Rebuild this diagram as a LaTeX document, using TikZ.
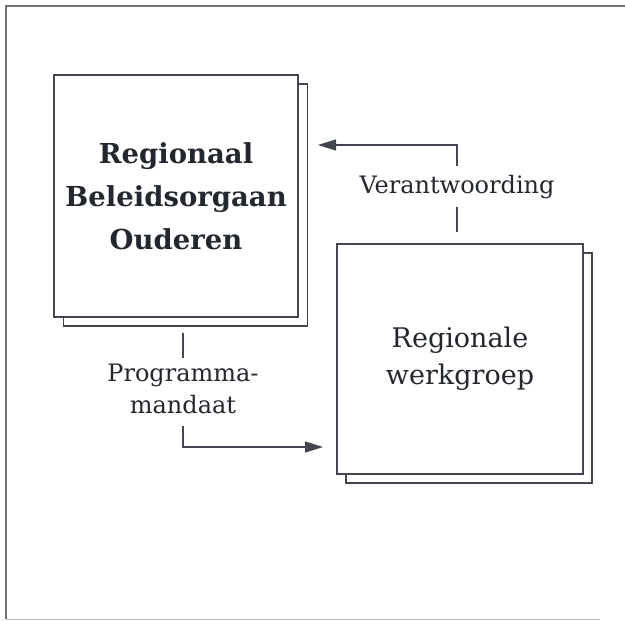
\documentclass[tikz,border=0pt]{standalone}
\usepackage{fontspec}
\setmainfont{DejaVu Serif}
\usetikzlibrary{arrows.meta}
\definecolor{ink}{HTML}{23272E}
\definecolor{edge}{HTML}{42464E}
\begin{document}
\begin{tikzpicture}[x=1pt,y=-1pt,
  frame/.style={draw=edge!75, line width=1.3pt},
  box1/.style={draw=edge, line width=1.4pt, fill=white, inner sep=0pt,
    minimum width=244pt, minimum height=242pt, text=ink, align=center},
  box2/.style={draw=edge, line width=1.4pt, fill=white, inner sep=0pt,
    minimum width=246pt, minimum height=230pt, text=ink, align=center},
  lab/.style={inner sep=0pt, text=ink, align=center, font=\fontsize{24}{32}\selectfont},
  conn/.style={draw=edge, line width=1.4pt},
  tip/.style={-{Triangle[length=18pt,width=11pt]}}
]
\useasboundingbox (0,0) rectangle (625,621);
\draw[frame] (625,6) -- (6,6) -- (6,619);
\draw[draw=edge!35, line width=1pt] (6,619) -- (600,619);

\node[box1] (b1back) at (185.5,205) {};
\node[box1, font=\bfseries\fontsize{27.5}{43}\selectfont] (b1) at (176,196)
  {Regionaal\\Beleidsorgaan\\Ouderen};
\node[box2] (b2back) at (469,368) {};
\node[box2, font=\fontsize{27}{37}\selectfont] (b2) at (460,359)
  {Regionale\\werkgroep};

\node[lab, anchor=base] (l1) at (457,193) {Verantwoording};
\node[lab] (l2) at (183,389) {Programma-\\mandaat};
\coordinate (t1) at (318,145);
\coordinate (t2) at (323,447);

\draw[conn, shorten <=8pt, shorten >=11pt] (l1.south) -- (l1.south |- b2.north);
\draw[conn, tip, shorten <=9pt] (l1.north) |- (t1);
\draw[conn, shorten <=6pt, shorten >=6pt] (l2.north |- b1back.south) -- (l2.north);
\draw[conn, tip, shorten <=12pt] (l2.south) |- (t2);
\end{tikzpicture}
\end{document}
